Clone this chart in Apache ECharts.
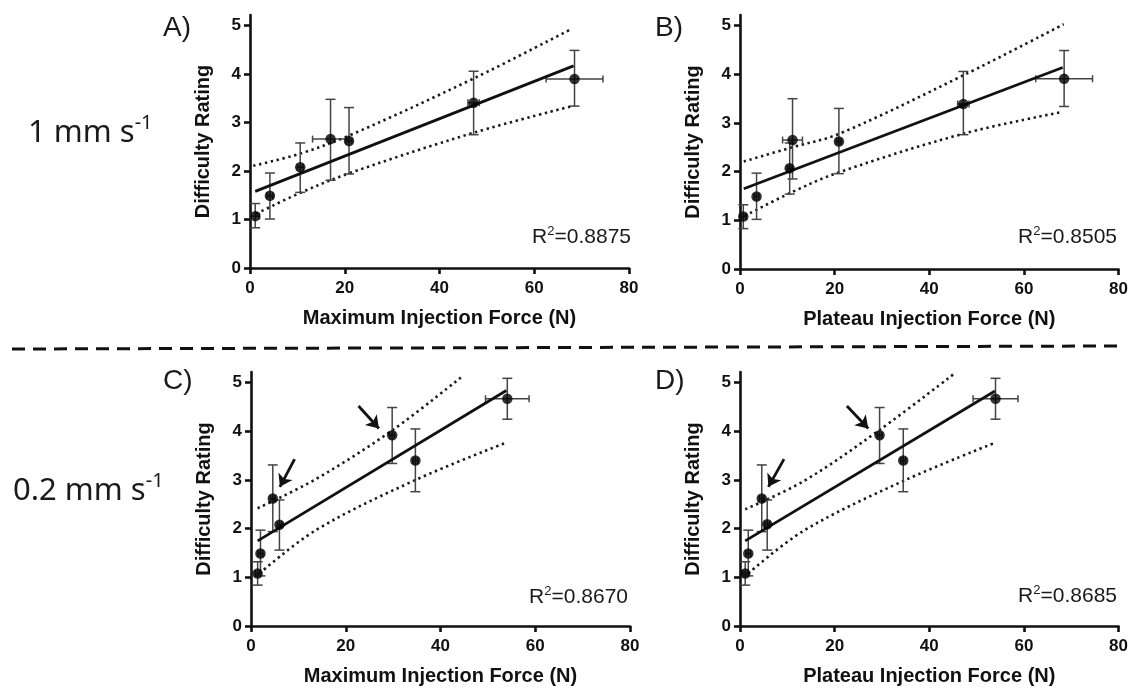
<!DOCTYPE html>
<html><head><meta charset="utf-8">
<script src="https://cdn.jsdelivr.net/npm/echarts@6/dist/echarts.min.js"></script>
<style>html,body{margin:0;padding:0;background:#fff}#c{width:1131px;height:688px}</style>
</head><body><div id="c"></div>
<script>
// ---------- DATA ----------
const xTickLabels = [0, 20, 40, 60, 80];
const yTickLabels = [0, 1, 2, 3, 4, 5];
const panelLetters = ['A)', 'B)', 'C)', 'D)'];
const xTitles = ['Maximum Injection Force (N)', 'Plateau Injection Force (N)', 'Maximum Injection Force (N)', 'Plateau Injection Force (N)'];
const yTitle = 'Difficulty Rating';
const r2Values = ['0.8875', '0.8505', '0.8670', '0.8685'];
const speedLabels = ['1 mm s', '0.2 mm s'];

// Panel A (1 mm/s, maximum force)
const aX    = [1.1, 4.2, 10.6, 17.0, 20.9, 47.2, 68.5];
const aY    = [1.07, 1.49, 2.08, 2.66, 2.62, 3.41, 3.90];
const aYLo  = [0.83, 1.01, 1.56, 1.81, 1.94, 2.75, 3.34];
const aYHi  = [1.33, 1.96, 2.58, 3.48, 3.31, 4.06, 4.49];
const aXErr = [0.9, 0.6, 0.6, 3.8, 0.6, 1.2, 6.0];
const aFit   = [[1.1, 1.58], [68.3, 4.17]];
const aUpper = [[0.7, 2.11], [10.6, 2.36], [21.1, 2.74], [47.2, 3.91], [67.4, 4.91]];
const aLower = [[1.3, 1.12], [10.6, 1.55], [21.1, 1.96], [47.2, 2.79], [68.0, 3.34]];

// Panel B (1 mm/s, plateau force)
const bX    = [0.7, 3.5, 10.5, 11.1, 20.9, 47.2, 68.5];
const bY    = [1.08, 1.49, 2.07, 2.65, 2.62, 3.39, 3.91];
const bYLo  = [0.83, 1.02, 1.54, 1.85, 1.96, 2.76, 3.34];
const bYHi  = [1.32, 1.97, 2.59, 3.50, 3.30, 4.06, 4.49];
const bXErr = [0.6, 0.5, 0.5, 2.1, 0.5, 1.2, 6.0];
const bFit   = [[0.8, 1.65], [68.2, 4.14]];
const bUpper = [[0.8, 2.21], [11.0, 2.50], [21.0, 2.78], [47.2, 3.98], [68.4, 5.03]];
const bLower = [[1.0, 1.09], [11.0, 1.58], [21.0, 1.99], [47.2, 2.78], [67.7, 3.22]];

// Panel C (0.2 mm/s, maximum force)
const cX    = [1.4, 2.0, 4.6, 6.0, 29.8, 34.7, 54.1];
const cY    = [1.08, 1.49, 2.62, 2.08, 3.92, 3.40, 4.67];
const cYLo  = [0.84, 1.03, 1.94, 1.56, 3.34, 2.76, 4.25];
const cYHi  = [1.32, 1.97, 3.31, 2.59, 4.49, 4.05, 5.09];
const cXErr = [0.5, 0.5, 0.5, 0.5, 0.5, 0.5, 4.6];
const cFit   = [[1.4, 1.75], [53.9, 4.84]];
const cUpper = [[1.4, 2.42], [13.7, 3.02], [29.8, 4.02], [44.7, 5.14]];
const cLower = [[1.8, 1.08], [13.7, 1.97], [34.7, 3.00], [53.9, 3.77]];
const cArrows = [[22.7, 4.52, 27.0, 4.06], [9.2, 3.43, 6.1, 2.86]];

// Panel D (0.2 mm/s, plateau force)
const dX    = [1.1, 1.75, 4.6, 5.75, 29.5, 34.5, 54.0];
const dY    = [1.08, 1.49, 2.62, 2.09, 3.92, 3.40, 4.67];
const dYLo  = [0.84, 1.03, 1.94, 1.56, 3.34, 2.76, 4.25];
const dYHi  = [1.32, 1.97, 3.31, 2.59, 4.49, 4.05, 5.09];
const dXErr = [0.5, 0.5, 0.5, 0.5, 0.5, 0.5, 4.75];
const dFit   = [[1.1, 1.75], [53.9, 4.83]];
const dUpper = [[1.1, 2.40], [13.5, 2.98], [29.5, 4.03], [45.6, 5.21]];
const dLower = [[1.75, 1.08], [13.5, 1.96], [34.5, 2.98], [53.5, 3.75]];
const dArrows = [[22.6, 4.52, 27.1, 4.06], [9.3, 3.43, 6.0, 2.86]];

// ---------- LAYOUT ----------
const panels = [
  {x: aX, y: aY, lo: aYLo, hi: aYHi, xe: aXErr, fit: aFit, up: aUpper, low: aLower, arrows: []},
  {x: bX, y: bY, lo: bYLo, hi: bYHi, xe: bXErr, fit: bFit, up: bUpper, low: bLower, arrows: []},
  {x: cX, y: cY, lo: cYLo, hi: cYHi, xe: cXErr, fit: cFit, up: cUpper, low: cLower, arrows: cArrows},
  {x: dX, y: dY, lo: dYLo, hi: dYHi, xe: dXErr, fit: dFit, up: dUpper, low: dLower, arrows: dArrows}
];
const grids = [
  {left: 250, top: 15, width: 379, height: 253},
  {left: 740, top: 15, width: 380, height: 254},
  {left: 251, top: 372, width: 379, height: 254},
  {left: 740, top: 372, width: 380, height: 254}
];
const letterPos = [[163, 30], [655, 30], [163, 383], [655, 383]];
const r2Pos = [[631, 237], [1117, 237], [628, 597], [1117, 596]];
const speedPos = [[28, 133], [13, 491]];

const INK = '#111';
const AXFONT = '"Liberation Sans", Arial, sans-serif';

function renderErr(params, api) {
  const x = api.value(0), y = api.value(1), lo = api.value(2), hi = api.value(3), xe = api.value(4);
  const a = api.coord([x, hi]), b = api.coord([x, lo]);
  const l = api.coord([x - xe, y]), r = api.coord([x + xe, y]);
  const c = 5, h = 3.5;
  const L = (x1, y1, x2, y2) => ({type: 'line', shape: {x1, y1, x2, y2}, style: {stroke: '#444', lineWidth: 1.5}});
  return {type: 'group', children: [
    L(a[0], a[1], b[0], b[1]), L(a[0] - c, a[1], a[0] + c, a[1]), L(b[0] - c, b[1], b[0] + c, b[1]),
    L(l[0], l[1], r[0], r[1]), L(l[0], l[1] - h, l[0], l[1] + h), L(r[0], r[1] - h, r[0], r[1] + h)
  ]};
}

const option = {
  backgroundColor: '#fff',
  animation: false,
  grid: grids,
  xAxis: [], yAxis: [], series: [], graphic: []
};

panels.forEach((P, i) => {
  option.xAxis.push({
    type: 'value', gridIndex: i, min: 0, max: 80, interval: 20,
    name: xTitles[i], nameLocation: 'middle', nameGap: 40,
    nameTextStyle: {fontFamily: AXFONT, fontWeight: 'bold', fontSize: 20, color: INK},
    axisLine: {show: true, onZero: false, lineStyle: {color: INK, width: 2.6}},
    axisTick: {show: true, length: 6, lineStyle: {color: INK, width: 2.6}},
    axisLabel: {margin: 12, fontFamily: AXFONT, fontWeight: 'bold', fontSize: 17, color: INK,
      customValues: xTickLabels},
    splitLine: {show: false}
  });
  option.yAxis.push({
    type: 'value', gridIndex: i, min: 0, max: 5.22,
    name: yTitle, nameLocation: 'middle', nameGap: 37,
    nameTextStyle: {fontFamily: AXFONT, fontWeight: 'bold', fontSize: 20, color: INK},
    axisLine: {show: true, onZero: false, lineStyle: {color: INK, width: 2.6}},
    axisTick: {show: true, length: 6, lineStyle: {color: INK, width: 2.6}, customValues: yTickLabels},
    axisLabel: {margin: 9, fontFamily: AXFONT, fontWeight: 'bold', fontSize: 17, color: INK,
      customValues: yTickLabels},
    splitLine: {show: false}
  });
  const bandStyle = {color: '#1a1a1a', width: 2.6, type: [2.4, 3.6]};
  option.series.push({
    type: 'line', xAxisIndex: i, yAxisIndex: i, data: P.up, smooth: 0.35,
    symbol: 'none', lineStyle: bandStyle, z: 1, silent: true
  });
  option.series.push({
    type: 'line', xAxisIndex: i, yAxisIndex: i, data: P.low, smooth: 0.35,
    symbol: 'none', lineStyle: bandStyle, z: 1, silent: true
  });
  option.series.push({
    type: 'custom', xAxisIndex: i, yAxisIndex: i, renderItem: renderErr,
    data: P.x.map((x, k) => [x, P.y[k], P.lo[k], P.hi[k], P.xe[k]]),
    encode: {x: 0, y: 1}, z: 2, silent: true
  });
  option.series.push({
    type: 'line', xAxisIndex: i, yAxisIndex: i, data: P.fit,
    symbol: 'none', lineStyle: {color: INK, width: 2.8}, z: 3, silent: true,
    markLine: P.arrows.length ? {
      silent: true, symbol: ['none', 'arrow'], symbolSize: 12, animation: false,
      lineStyle: {color: INK, width: 2.8, type: 'solid'}, label: {show: false},
      data: P.arrows.map(a => [{coord: [a[0], a[1]]}, {coord: [a[2], a[3]]}])
    } : undefined
  });
  option.series.push({
    type: 'scatter', xAxisIndex: i, yAxisIndex: i,
    data: P.x.map((x, k) => [x, P.y[k]]),
    symbol: 'circle', symbolSize: 10.5, itemStyle: {color: '#000'}, z: 4, silent: true
  });
  option.graphic.push({
    type: 'text', left: letterPos[i][0], top: letterPos[i][1] - 16,
    style: {text: panelLetters[i], font: '28px "Liberation Sans", Arial, sans-serif', fill: '#1a1a1a'}
  });
  option.graphic.push({
    type: 'text', x: r2Pos[i][0], y: r2Pos[i][1],
    style: {
      text: 'R{s|2}=' + r2Values[i], align: 'right', verticalAlign: 'middle',
      font: '21px "Liberation Sans", Arial, sans-serif', fill: '#1a1a1a',
      rich: {s: {fontSize: 13, fontFamily: '"Liberation Sans", Arial, sans-serif', verticalAlign: 'top', lineHeight: 24, fill: '#1a1a1a'}}
    }
  });
});

speedLabels.forEach((t, j) => {
  option.graphic.push({
    type: 'text', x: speedPos[j][0], y: speedPos[j][1],
    style: {
      text: t + '{s|-1}', align: 'left', verticalAlign: 'middle',
      font: '31px "Noto Sans", "Open Sans", sans-serif', fill: '#1a1a1a',
      rich: {s: {fontSize: 20, fontFamily: '"Noto Sans", sans-serif', verticalAlign: 'top', lineHeight: 40, fill: '#1a1a1a'}}
    }
  });
});

option.graphic.push({
  type: 'line', shape: {x1: 12, y1: 349, x2: 1120, y2: 346},
  style: {stroke: '#111', lineWidth: 3, lineDash: [13, 8]}
});

const chart = echarts.init(document.getElementById('c'), null, {renderer: 'canvas'});
chart.setOption(option);
</script></body></html>
